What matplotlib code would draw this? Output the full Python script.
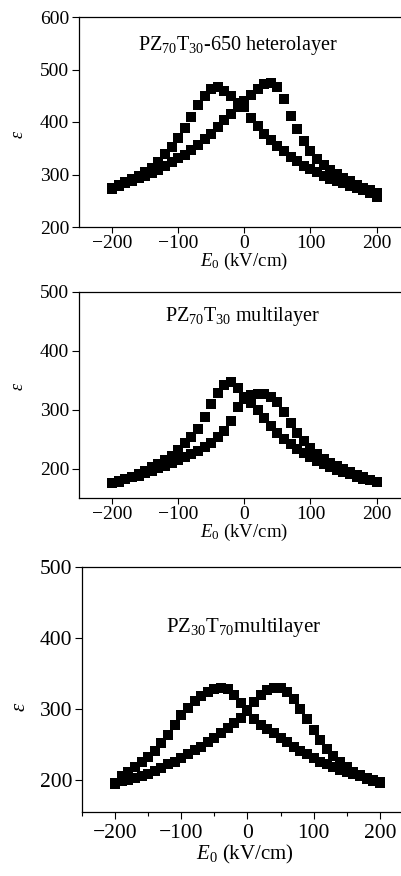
import numpy as np
import matplotlib
matplotlib.use('Agg')
import matplotlib.pyplot as plt
from matplotlib.ticker import MultipleLocator

plt.rcParams['font.family'] = 'Liberation Serif'
plt.rcParams['mathtext.fontset'] = 'custom'
plt.rcParams['mathtext.rm'] = 'Liberation Serif'
plt.rcParams['mathtext.it'] = 'Liberation Serif:italic'

# field sweep, kV/cm
field = list(range(-200, 201, 10))

# PZ70T30-650 heterolayer
hetero_a = [275, 280, 285, 291, 297, 304, 313, 324, 339, 353, 370, 388, 410, 432, 450, 462, 466, 460, 450, 437, 428,
            408, 392, 378, 366, 355, 344, 334, 326, 317, 310, 304, 298, 292, 287, 283, 279, 275, 270, 264, 257]
hetero_b = [273, 278, 283, 288, 293, 298, 303, 309, 316, 323, 331, 337, 347, 356, 367, 378, 390, 403, 415, 429, 440,
            452, 463, 472, 474, 466, 444, 412, 386, 363, 345, 329, 318, 309, 301, 294, 287, 280, 275, 270, 265]

# PZ70T30 multilayer
multi7030_a = [176, 179, 182, 186, 191, 196, 202, 208, 215, 222, 231, 243, 254, 268, 288, 310, 328, 342, 347, 337, 322,
               312, 300, 286, 273, 261, 251, 242, 234, 226, 219, 213, 207, 202, 198, 194, 190, 186, 183, 180, 177]
multi7030_b = [175, 178, 182, 185, 188, 192, 196, 201, 205, 210, 214, 219, 224, 230, 236, 244, 253, 264, 281, 305, 318,
               325, 327, 326, 322, 313, 296, 278, 261, 247, 235, 225, 216, 209, 204, 199, 194, 189, 185, 181, 177]

# PZ30T70 multilayer
multi3070_a = [196, 205, 212, 218, 225, 233, 241, 252, 264, 277, 291, 302, 312, 319, 324, 328, 329, 328, 320, 308, 297,
               286, 278, 272, 266, 259, 253, 247, 241, 236, 231, 226, 222, 218, 214, 211, 208, 205, 202, 199, 196]
multi3070_b = [195, 198, 200, 203, 206, 209, 213, 217, 222, 226, 231, 236, 242, 247, 253, 259, 266, 273, 280, 288, 298,
               310, 320, 327, 330, 329, 324, 314, 300, 286, 270, 256, 244, 234, 225, 218, 212, 207, 203, 200, 197]

titles = [r'PZ$_{70}$T$_{30}$-650 heterolayer', r'PZ$_{70}$T$_{30}$ multilayer', r'PZ$_{30}$T$_{70}$multilayer']
xticks = [-200, -100, 0, 100, 200]

fig = plt.figure(figsize=(4.01, 8.76), dpi=100)

W, H = 401.0, 876.0
def add_ax(left, top, bottom):
    return fig.add_axes([left / W, 1 - bottom / H, 1 - left / W, (bottom - top) / H])

ax1 = add_ax(79, 17, 227)
ax2 = add_ax(79, 292, 498)
ax3 = add_ax(82, 567, 812)

setup = [
    (ax1, hetero_a, hetero_b, (200, 600), [200, 300, 400, 500, 600], 237, 14, 13.5, 13),
    (ax2, multi7030_a, multi7030_b, (150, 500), [200, 300, 400, 500], 237, 14, 13.5, 13),
    (ax3, multi3070_a, multi3070_b, (155, 500), [200, 300, 400, 500], 232, 15.5, 15, 15),
]
title_pos = [(0.494, 0.843, 14.5), (0.506, 0.859, 14.5), (0.507, 0.735, 15)]
xlab_y = [-0.115, -0.117, -0.128]
eps_pos = [(-0.19, 0.44), (-0.19, 0.54), (-0.195, 0.43)]

for i, (ax, ya, yb, ylim, yt, xr, tfs, lfs, efs) in enumerate(setup):
    ax.plot(field, ya, 's', color='black', markersize=7, markeredgewidth=0)
    ax.plot(field, yb, 's', color='black', markersize=7, markeredgewidth=0)
    ax.set_xlim(-250, xr)
    ax.set_ylim(*ylim)
    ax.set_xticks(xticks)
    ax.set_yticks(yt)
    ax.spines['right'].set_visible(False)
    for s in ['left', 'top', 'bottom']:
        ax.spines[s].set_linewidth(0.9)
    ax.tick_params(axis='both', direction='out', width=0.8, labelsize=tfs)
    ax.tick_params(axis='x', length=4, pad=2)
    ax.tick_params(axis='y', length=5, pad=2)
    if i == 2:
        ax.xaxis.set_minor_locator(MultipleLocator(50))
        ax.tick_params(axis='x', which='minor', direction='out', length=3, width=0.8)
        ax.tick_params(axis='x', length=5, pad=4)
    tx, ty, tsz = title_pos[i]
    ax.text(tx, ty, titles[i], transform=ax.transAxes, ha='center', va='baseline', fontsize=tsz)
    ax.set_xlabel(r'$E_0$ (kV/cm)', fontsize=lfs)
    ax.xaxis.set_label_coords(0.512, xlab_y[i])
    ex, ey = eps_pos[i]
    ax.text(ex, ey, 'ε', transform=ax.transAxes, rotation=90, ha='center', va='center',
            fontsize=efs, style='italic')

fig.savefig('out.png', dpi=100)
